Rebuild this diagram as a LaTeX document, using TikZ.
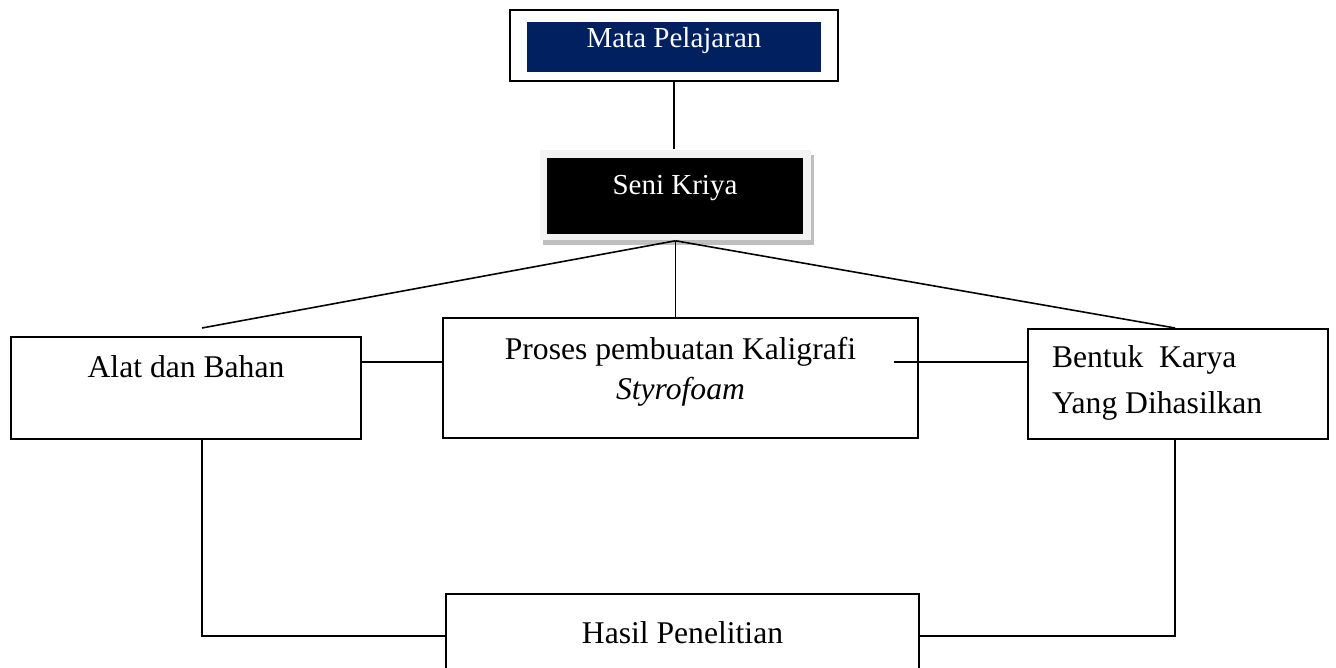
\documentclass[tikz,border=0pt]{standalone}
\usepackage{fontspec}
\setmainfont{Liberation Serif}
\usepackage{xcolor}
\usetikzlibrary{positioning, calc, shadows}
\definecolor{navyblue}{HTML}{002060}
\definecolor{framegray}{HTML}{F2F2F2}
\definecolor{shadowgray}{HTML}{BFBFBF}

\begin{document}
\begin{tikzpicture}[x=0.02cm,y=-0.02cm,line width=0.9pt,
			main node/.style={draw,rectangle,inner sep=0pt,fill=white,font=\fontsize{18}{23.2}\selectfont},
			head node/.style={rectangle,inner sep=0pt,text=white,font=\fontsize{16.5}{20}\selectfont}]
			
			\useasboundingbox (0,0) rectangle (1336,668);
			
			\node[draw,line width=1pt,rectangle,minimum width=6.56cm,minimum height=1.42cm] (mapel) at (674,45.5) {};
			\node[head node,fill=navyblue,minimum width=5.88cm,text height=0.52cm,text depth=0.48cm] (mapel in) at (674,21) [anchor=north] {Mata Pelajaran};
			
			\node[rectangle,fill=framegray,minimum width=5.42cm,minimum height=1.8cm,
			drop shadow={shadow xshift=0.06cm,shadow yshift=-0.1cm,fill=shadowgray,opacity=1}] (seni) at (675.5,195) {};
			\node[head node,fill=black,minimum width=5.12cm,text height=0.74cm,text depth=0.78cm] (seni in) at (675,157) [anchor=north] {Seni Kriya};
			
			\node[main node,minimum width=7cm,text height=0.82cm,text depth=1.22cm] (alat) at (186,336) [anchor=north] {Alat dan Bahan};
			\node[main node,minimum width=9.5cm,align=center,text height=1.64cm,text depth=0.76cm] (proses) at (680.5,317) [anchor=north] {Proses pembuatan Kaligrafi\\ \textit{Styrofoam}};
			\node[main node,minimum width=6cm,text width=5.04cm,inner xsep=0.48cm,align=flush left,
			font=\fontsize{18}{26.1}\selectfont,text height=0.78cm,text depth=1.42cm] (bentuk) at (1178,328) [anchor=north] {Bentuk\ \ Karya\\ Yang Dihasilkan};
			\node[main node,minimum width=9.46cm,text height=1cm,text depth=1.4cm] (hasil) at (682.5,593) [anchor=north] {Hasil Penelitian};
			
			\coordinate (alat top) at (202,328);
			\coordinate (row) at (0,362);
			\coordinate (base) at (0,636);
			
			\draw (mapel.south) -- (mapel.south |- seni.north);
			\draw (seni.south) -- (alat top);
			\draw (seni.south) -- (seni.south |- proses.north);
			\draw (seni.south) -- ([xshift=-0.06cm]bentuk.north);
			
			\draw (alat.east |- row) -- (proses.west |- row);
			\draw ([xshift=-0.5cm]proses.east |- row) -- (bentuk.west |- row);
			
			\draw ([xshift=0.32cm]alat.south) |- (hasil.west |- base);
			\draw ([xshift=-0.06cm]bentuk.south) |- (hasil.east |- base);
		\end{tikzpicture}
\end{document}
